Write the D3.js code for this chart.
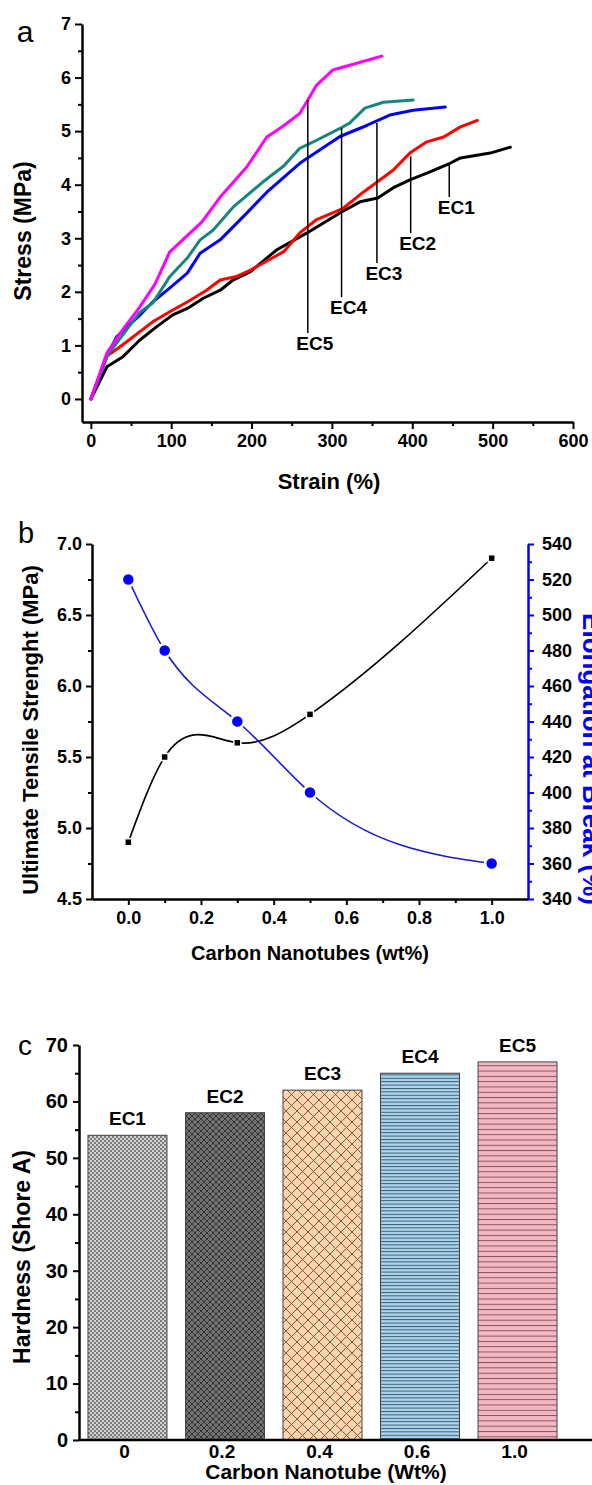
<!DOCTYPE html>
<meta charset="utf-8">
<style>
  body { margin: 0; background: #fff; }
  text { font-family: "Liberation Sans", Arial, sans-serif; }
</style>
<svg width="592" height="1485"></svg>
<script src="https://d3js.org/d3.v7.min.js"></script>
<script>

// ---- panel a : stress-strain curves, [strain %, stress MPa]
var ec1Curve = [[0,0],[20,0.6],[40,0.79],[61,1.1],[82,1.35],[102,1.57],[120,1.69],[140,1.88],[161,2.03],[177,2.22],[198,2.37],[231,2.78],[269,3.1],[312,3.49],[335,3.68],[357,3.75],[376,3.94],[397,4.09],[422,4.24],[447,4.4],[460,4.5],[497,4.59],[522,4.7]],
    ec2Curve = [[0,0],[20,0.8],[36,0.97],[77,1.44],[102,1.66],[120,1.81],[144,2.03],[161,2.22],[180,2.28],[198,2.4],[222,2.6],[240,2.75],[260,3.1],[281,3.35],[314,3.56],[339,3.86],[376,4.27],[397,4.59],[418,4.8],[439,4.89],[460,5.08],[481,5.2]],
    ec3Curve = [[0,0],[20,0.8],[32,1.16],[60,1.55],[77,1.81],[98,2.07],[120,2.35],[136,2.72],[161,2.97],[194,3.47],[219,3.86],[260,4.4],[310,4.9],[344,5.11],[372,5.3],[401,5.39],[441,5.45]],
    ec4Curve = [[0,0],[20,0.8],[40,1.2],[61,1.62],[77,1.79],[98,2.28],[120,2.63],[136,2.97],[152,3.15],[177,3.58],[214,4.05],[240,4.35],[260,4.68],[281,4.83],[310,5.05],[322,5.15],[341,5.43],[364,5.54],[401,5.58]],
    ec5Curve = [[0,0],[20,0.86],[40,1.3],[61,1.72],[80,2.15],[98,2.74],[120,3.05],[138,3.3],[161,3.77],[194,4.33],[219,4.89],[240,5.1],[260,5.33],[270,5.58],[281,5.86],[301,6.14],[322,6.23],[362,6.4]];

var curveNames = ["EC1", "EC2", "EC3", "EC4", "EC5"],
    curveColors = ["#000000", "#ff0000", "#0000ff", "#17877d", "#ff00ff"];

// leader lines: strain where they hit the curve, top / bottom stress
var labelStrain = [446, 398, 356, 312, 270],
    labelTop = [4.37, 4.53, 5.15, 5.06, 5.58],
    labelBottom = [3.77, 3.1, 2.54, 1.9, 1.23];

// ---- panel b
var cnt = [0, 0.1, 0.3, 0.5, 1.0],
    tensile = [4.9, 5.5, 5.6, 5.8, 6.9],
    elongation = [520, 480, 440, 400, 360];

// ---- panel c
var samples = ["EC1", "EC2", "EC3", "EC4", "EC5"],
    loadings = ["0", "0.2", "0.4", "0.6", "1.0"],
    hardness = [54, 58, 62, 65, 67];

var svg = d3.select("svg");

function styleAxis(g, size, color) {
  g.selectAll("path").attr("stroke", color || "#000").attr("stroke-width", 2.5);
  g.selectAll("line").attr("stroke", color || "#000").attr("stroke-width", 2);
  g.selectAll("text").attr("font-size", size).attr("font-weight", "bold")
    .attr("fill", "#000").attr("font-family", "'Liberation Sans', Arial, sans-serif");
}
function minor(g) {
  g.select(".domain").remove();
  g.selectAll("line").attr("stroke", g.attr("data-c") || "#000").attr("stroke-width", 2);
}

// natural cubic spline in x (like Origin's spline connect), drawn as bezier pieces
function curveNaturalX(context) {
  var xs, ys;
  return {
    areaStart: function() {}, areaEnd: function() {},
    lineStart: function() { xs = []; ys = []; },
    point: function(x, y) { xs.push(+x); ys.push(+y); },
    lineEnd: function() {
      var n = xs.length - 1, i, h = [], M = new Array(n + 1).fill(0);
      for (i = 0; i < n; i++) h[i] = xs[i + 1] - xs[i];
      if (n > 1) {
        // tridiagonal solve for second derivatives, M[0] = M[n] = 0
        var a = [], b = [], c = [], r = [];
        for (i = 1; i < n; i++) {
          a.push(h[i - 1]); b.push(2 * (h[i - 1] + h[i])); c.push(h[i]);
          r.push(6 * ((ys[i + 1] - ys[i]) / h[i] - (ys[i] - ys[i - 1]) / h[i - 1]));
        }
        var m = b.length;
        for (i = 1; i < m; i++) {
          var w = a[i] / b[i - 1];
          b[i] -= w * c[i - 1]; r[i] -= w * r[i - 1];
        }
        var sol = new Array(m);
        sol[m - 1] = r[m - 1] / b[m - 1];
        for (i = m - 2; i >= 0; i--) sol[i] = (r[i] - c[i] * sol[i + 1]) / b[i];
        for (i = 1; i < n; i++) M[i] = sol[i - 1];
      }
      var slope = [];
      for (i = 0; i < n; i++) slope[i] = (ys[i + 1] - ys[i]) / h[i] - h[i] * (2 * M[i] + M[i + 1]) / 6;
      slope[n] = (ys[n] - ys[n - 1]) / h[n - 1] + h[n - 1] * (M[n - 1] + 2 * M[n]) / 6;
      context.moveTo(xs[0], ys[0]);
      for (i = 0; i < n; i++) {
        var d = h[i] / 3;
        context.bezierCurveTo(xs[i] + d, ys[i] + slope[i] * d,
                              xs[i + 1] - d, ys[i + 1] - slope[i + 1] * d,
                              xs[i + 1], ys[i + 1]);
      }
    }
  };
}

/* ================= panel a ================= */
var xa = d3.scaleLinear().domain([-11, 600]).range([82, 573]),
    ya = d3.scaleLinear().domain([-0.43, 7]).range([422, 24]);

var ga = svg.append("g");

ga.append("g").attr("transform", "translate(0,422)")
  .call(d3.axisBottom(xa).tickValues(d3.range(50, 600, 100)).tickSize(4).tickFormat(""))
  .call(minor);
ga.append("g").attr("transform", "translate(0,422)")
  .call(d3.axisBottom(xa).tickValues(d3.range(0, 601, 100)).tickSize(7).tickPadding(5).tickSizeOuter(0))
  .call(styleAxis, 18);
ga.append("g").attr("transform", "translate(82,0)")
  .call(d3.axisLeft(ya).tickValues(d3.range(0.5, 7, 1)).tickSize(4).tickFormat(""))
  .call(minor);
ga.append("g").attr("transform", "translate(82,0)")
  .call(d3.axisLeft(ya).tickValues(d3.range(0, 8)).tickSize(7).tickPadding(4).tickSizeOuter(0))
  .call(styleAxis, 18);

var lineA = d3.line().x(function(d) { return xa(d[0]); }).y(function(d) { return ya(d[1]); });
[ec1Curve, ec2Curve, ec3Curve, ec4Curve, ec5Curve].forEach(function(c, i) {
  ga.append("path").datum(c)
    .attr("d", lineA)
    .attr("fill", "none")
    .attr("stroke", curveColors[i])
    .attr("stroke-width", 3)
    .attr("stroke-linejoin", "round")
    .attr("stroke-linecap", "round");
});

curveNames.forEach(function(n, i) {
  var lx = xa(labelStrain[i]);
  ga.append("line")
    .attr("x1", lx).attr("x2", lx)
    .attr("y1", ya(labelTop[i])).attr("y2", ya(labelBottom[i]))
    .attr("stroke", "#000").attr("stroke-width", 1.5);
  ga.append("text")
    .attr("x", lx + 7).attr("y", ya(labelBottom[i]) + 17)
    .attr("text-anchor", "middle")
    .attr("font-size", 19).attr("font-weight", "bold")
    .text(n);
});

ga.append("text").attr("x", 329).attr("y", 489).attr("text-anchor", "middle")
  .attr("font-size", 22).attr("font-weight", "bold").text("Strain (%)");
ga.append("text").attr("transform", "translate(23,231) rotate(-90)").attr("dy", "0.35em")
  .attr("text-anchor", "middle").attr("font-size", 23).attr("font-weight", "bold").text("Stress (MPa)");
ga.append("text").attr("x", 25).attr("y", 42).attr("text-anchor", "middle")
  .attr("font-size", 30).text("a");

/* ================= panel b ================= */
var xb = d3.scaleLinear().domain([-0.1, 1.1]).range([92, 528]),
    yb = d3.scaleLinear().domain([4.5, 7.0]).range([899, 544]),
    yr = d3.scaleLinear().domain([340, 540]).range([899, 544]);

var gb = svg.append("g");

gb.append("g").attr("transform", "translate(0,899)")
  .call(d3.axisBottom(xb).tickValues([0.1, 0.3, 0.5, 0.7, 0.9]).tickSize(4).tickFormat(""))
  .call(minor);
gb.append("g").attr("transform", "translate(0,899)")
  .call(d3.axisBottom(xb).tickValues([0, 0.2, 0.4, 0.6, 0.8, 1.0]).tickSize(6).tickPadding(6)
    .tickSizeOuter(0).tickFormat(d3.format(".1f")))
  .call(styleAxis, 18);
gb.append("g").attr("transform", "translate(92,0)")
  .call(d3.axisLeft(yb).tickValues([4.75, 5.25, 5.75, 6.25, 6.75]).tickSize(4).tickFormat(""))
  .call(minor);
gb.append("g").attr("transform", "translate(92,0)")
  .call(d3.axisLeft(yb).tickValues([4.5, 5.0, 5.5, 6.0, 6.5, 7.0]).tickSize(6).tickPadding(4)
    .tickSizeOuter(0).tickFormat(d3.format(".1f")))
  .call(styleAxis, 18);
gb.append("g").attr("transform", "translate(528,0)").attr("data-c", "#0000ff")
  .call(d3.axisRight(yr).tickValues(d3.range(350, 540, 20)).tickSize(4).tickFormat(""))
  .call(minor);
gb.append("g").attr("transform", "translate(528,0)")
  .call(d3.axisRight(yr).tickValues(d3.range(340, 541, 20)).tickSize(6).tickPadding(8).tickSizeOuter(0))
  .call(styleAxis, 18, "#0000ff");

var tsPts = cnt.map(function(c, i) { return [c, tensile[i]]; }),
    elPts = cnt.map(function(c, i) { return [c, elongation[i]]; });

gb.append("path").datum(tsPts)
  .attr("d", d3.line().curve(curveNaturalX)
    .x(function(d) { return xb(d[0]); }).y(function(d) { return yb(d[1]); }))
  .attr("fill", "none").attr("stroke", "#000").attr("stroke-width", 1.6);
gb.append("path").datum(elPts)
  .attr("d", d3.line().curve(curveNaturalX)
    .x(function(d) { return xb(d[0]); }).y(function(d) { return yr(d[1]); }))
  .attr("fill", "none").attr("stroke", "#1a1ad0").attr("stroke-width", 1.6);

gb.selectAll(".sq").data(tsPts).enter().append("rect")
  .attr("x", function(d) { return xb(d[0]) - 3.5; })
  .attr("y", function(d) { return yb(d[1]) - 3.5; })
  .attr("width", 7).attr("height", 7)
  .attr("fill", "#000").attr("stroke", "#fff").attr("stroke-width", 1.5);
gb.selectAll(".dot").data(elPts).enter().append("circle")
  .attr("cx", function(d) { return xb(d[0]); })
  .attr("cy", function(d) { return yr(d[1]); })
  .attr("r", 6.5)
  .attr("fill", "#0000ff").attr("stroke", "#fff").attr("stroke-width", 2.5);

gb.append("text").attr("x", 310).attr("y", 960).attr("text-anchor", "middle")
  .attr("font-size", 20).attr("font-weight", "bold").text("Carbon Nanotubes (wt%)");
gb.append("text").attr("transform", "translate(30,730) rotate(-90)").attr("dy", "0.35em")
  .attr("text-anchor", "middle").attr("font-size", 22).attr("font-weight", "bold")
  .text("Ultimate Tensile Strenght (MPa)");
gb.append("text").attr("transform", "translate(583,759) rotate(90)")
  .attr("text-anchor", "middle").attr("font-size", 26).attr("font-weight", "bold")
  .attr("fill", "#0000ff").text("Elongation at Break (%)");
gb.append("text").attr("x", 26).attr("y", 543).attr("text-anchor", "middle")
  .attr("font-size", 29).text("b");

/* ================= panel c ================= */
var defs = svg.append("defs");

var p1 = defs.append("pattern").attr("id", "pat0").attr("patternUnits", "userSpaceOnUse")
  .attr("width", 4).attr("height", 4);
p1.append("rect").attr("width", 4).attr("height", 4).attr("fill", "#d2d2d2");
p1.append("rect").attr("width", 2).attr("height", 2).attr("fill", "#7c7c7c");
p1.append("rect").attr("x", 2).attr("y", 2).attr("width", 2).attr("height", 2).attr("fill", "#7c7c7c");

function crossPattern(id, size, bg, fg) {
  var p = defs.append("pattern").attr("id", id).attr("patternUnits", "userSpaceOnUse")
    .attr("width", size).attr("height", size);
  p.append("rect").attr("width", size).attr("height", size).attr("fill", bg);
  p.append("path").attr("d", "M0,0L" + size + "," + size + "M" + size + ",0L0," + size)
    .attr("stroke", fg).attr("stroke-width", 0.9);
}
function stripePattern(id, gap, bg, fg) {
  var p = defs.append("pattern").attr("id", id).attr("patternUnits", "userSpaceOnUse")
    .attr("width", 10).attr("height", gap);
  p.append("rect").attr("width", 10).attr("height", gap).attr("fill", bg);
  p.append("line").attr("x1", 0).attr("x2", 10).attr("y1", 0.5).attr("y2", 0.5)
    .attr("stroke", fg).attr("stroke-width", 0.9);
}
crossPattern("pat1", 6, "#737373", "#2b2b2b");
crossPattern("pat2", 11, "#fdd4ae", "#6e4c36");
stripePattern("pat3", 3.4, "#a9d3ee", "#34505f");
stripePattern("pat4", 5.3, "#f3b7c2", "#7f4a56");

var xc = d3.scaleBand().domain(loadings).range([79, 566]).paddingInner(0.19).paddingOuter(0.092),
    yc = d3.scaleLinear().domain([0, 70]).range([1440, 1045]);

var gc = svg.append("g");

gc.selectAll(".bar").data(hardness).enter().append("rect")
  .attr("x", function(d, i) { return xc(loadings[i]); })
  .attr("y", function(d) { return yc(d); })
  .attr("width", xc.bandwidth())
  .attr("height", function(d) { return yc(0) - yc(d); })
  .attr("fill", function(d, i) { return "url(#pat" + i + ")"; })
  .attr("stroke", "#444").attr("stroke-width", 1);

gc.selectAll(".blab").data(hardness).enter().append("text")
  .attr("x", function(d, i) { return xc(loadings[i]) + xc.bandwidth() / 2; })
  .attr("y", function(d) { return yc(d) - 10; })
  .attr("text-anchor", "middle").attr("font-size", 19).attr("font-weight", "bold")
  .text(function(d, i) { return samples[i]; });

gc.append("g").attr("transform", "translate(79,0)")
  .call(d3.axisLeft(yc).tickValues(d3.range(5, 70, 10)).tickSize(4).tickFormat(""))
  .call(minor);
gc.append("g").attr("transform", "translate(79,0)")
  .call(d3.axisLeft(yc).tickValues(d3.range(0, 71, 10)).tickSize(6).tickPadding(5).tickSizeOuter(0))
  .call(styleAxis, 20);

var xAxisC = gc.append("g").attr("transform", "translate(0,1440)")
  .call(d3.axisBottom(xc).tickSize(0).tickPadding(5));
xAxisC.select(".domain").remove();
styleAxis(xAxisC, 19);
xAxisC.selectAll("text").attr("dx", -3);
gc.append("line").attr("x1", 79).attr("x2", 592).attr("y1", 1440).attr("y2", 1440)
  .attr("stroke", "#000").attr("stroke-width", 2.5);

gc.append("text").attr("x", 326).attr("y", 1479).attr("text-anchor", "middle")
  .attr("font-size", 21).attr("font-weight", "bold").text("Carbon Nanotube (Wt%)");
gc.append("text").attr("transform", "translate(22,1257) rotate(-90)").attr("dy", "0.35em")
  .attr("text-anchor", "middle").attr("font-size", 23).attr("font-weight", "bold")
  .text("Hardness (Shore A)");
gc.append("text").attr("x", 25).attr("y", 1055).attr("text-anchor", "middle")
  .attr("font-size", 28).text("c");

</script>
